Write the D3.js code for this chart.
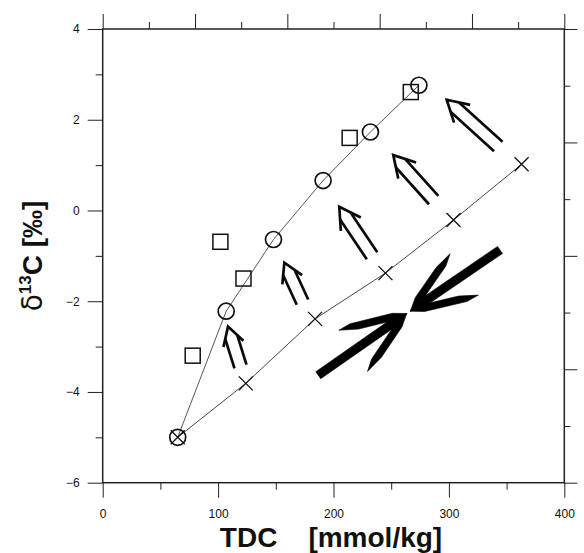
<!DOCTYPE html>
<html>
<head>
<meta charset="utf-8">
<script src="https://cdn.jsdelivr.net/npm/d3@7"></script>
<style>
  html, body { margin: 0; padding: 0; background: #fff; }
  svg { display: block; }
  text { font-family: "Liberation Sans", Arial, sans-serif; fill: #111; }
</style>
</head>
<body>
<svg id="chart" width="584" height="553"></svg>
<script>
// Open circles: TDC vs δ13C
const circleTDC = [65, 107, 148, 191, 232, 274];
const circleD13C = [-5.0, -2.22, -0.64, 0.66, 1.73, 2.76];

// Open squares
const squareTDC = [78, 102, 122, 214, 267];
const squareD13C = [-3.2, -0.69, -1.5, 1.6, 2.61];

// Crosses
const crossTDC = [65, 124, 184, 245, 304, 363];
const crossD13C = [-5.0, -3.81, -2.39, -1.38, -0.21, 1.02];

// Double-line arrows: tail and tip in data units
const arrowTailTDC = [119.4, 173.1, 233.4, 286.8, 342.8];
const arrowTailD13C = [-3.44, -2.02, -1.0, 0.23, 1.41];
const arrowTipTDC = [108.6, 157.4, 205.0, 251.8, 298.1];
const arrowTipD13C = [-2.56, -1.15, 0.08, 1.22, 2.44];

// Two heavy filled arrows meeting head to head
const bigTailTDC = [186.8, 344.3];
const bigTailD13C = [-3.63, -0.87];
const bigTipTDC = [263.5, 266.5];
const bigTipD13C = [-2.27, -2.22];

// Axis ticks
const xTickLabels = [0, 100, 200, 300, 400];
const yTickLabels = [-6, -4, -2, 0, 2, 4];

const svg = d3.select("#chart");
const margin = { left: 102.7, right: 19.7, top: 29, bottom: 70.3 };
const W = 584, H = 553;

const x = d3.scaleLinear().domain([0, 400]).range([margin.left, W - margin.right]);
const y = d3.scaleLinear().domain([-6, 4]).range([H - margin.bottom, margin.top]);

const axisColor = "#222";

// ---- axes ----
function styleAxis(g) {
  g.select(".domain").remove();
  g.selectAll(".tick line").attr("stroke", axisColor).attr("stroke-width", 1);
  g.selectAll(".tick text").style("font-size", "12px").attr("fill", "#111");
}

// left: labelled majors + minor odd values
svg.append("g").attr("transform", `translate(${x(0)},0)`)
  .call(d3.axisLeft(y).tickValues(yTickLabels).tickSize(15).tickPadding(8).tickFormat(d3.format("d")))
  .call(styleAxis);
svg.append("g").attr("transform", `translate(${x(0)},0)`)
  .call(d3.axisLeft(y).tickValues(d3.range(-5, 4, 2)).tickSize(7).tickFormat(""))
  .call(styleAxis);

// bottom
svg.append("g").attr("transform", `translate(0,${y(-6)})`)
  .call(d3.axisBottom(x).tickValues(xTickLabels).tickSize(15).tickPadding(12).tickFormat(d3.format("d")))
  .call(styleAxis);
svg.append("g").attr("transform", `translate(0,${y(-6)})`)
  .call(d3.axisBottom(x).tickValues([50, 150, 250, 350]).tickSize(7).tickFormat(""))
  .call(styleAxis);

// top: ticks every 40, longer every 80
svg.append("g").attr("transform", `translate(0,${y(4)})`)
  .call(d3.axisTop(x).tickValues(d3.range(0, 401, 80)).tickSize(15).tickFormat(""))
  .call(styleAxis);
svg.append("g").attr("transform", `translate(0,${y(4)})`)
  .call(d3.axisTop(x).tickValues(d3.range(40, 400, 80)).tickSize(7).tickFormat(""))
  .call(styleAxis);

// right: ticks every 1.25, longer every 2.5
svg.append("g").attr("transform", `translate(${x(400)},0)`)
  .call(d3.axisRight(y).tickValues(d3.range(-6, 4.01, 2.5)).tickSize(13).tickFormat(""))
  .call(styleAxis);
svg.append("g").attr("transform", `translate(${x(400)},0)`)
  .call(d3.axisRight(y).tickValues(d3.range(-4.75, 4, 2.5)).tickSize(6).tickFormat(""))
  .call(styleAxis);

// frame
svg.append("rect")
  .attr("x", x(0)).attr("y", y(4))
  .attr("width", x(400) - x(0)).attr("height", y(-6) - y(4))
  .attr("fill", "none").attr("stroke", axisColor).attr("stroke-width", 1.5);

// ---- series lines ----
const line = d3.line().x(d => x(d[0])).y(d => y(d[1]));
const circlePts = circleTDC.map((v, i) => [v, circleD13C[i]]);
const crossPts = crossTDC.map((v, i) => [v, crossD13C[i]]);

svg.append("path").datum(circlePts).attr("d", line)
  .attr("fill", "none").attr("stroke", "#444").attr("stroke-width", 0.9);
svg.append("path").datum(crossPts).attr("d", line)
  .attr("fill", "none").attr("stroke", "#333").attr("stroke-width", 0.9);

// ---- markers ----
const markerStroke = "#111";
svg.append("g").selectAll("rect")
  .data(squareTDC.map((v, i) => [v, squareD13C[i]]))
  .join("rect")
  .attr("x", d => x(d[0]) - 7.5).attr("y", d => y(d[1]) - 7.5)
  .attr("width", 15).attr("height", 15)
  .attr("fill", "none").attr("stroke", markerStroke).attr("stroke-width", 1.5);

svg.append("g").selectAll("circle")
  .data(circlePts)
  .join("circle")
  .attr("cx", d => x(d[0])).attr("cy", d => y(d[1])).attr("r", 8)
  .attr("fill", "none").attr("stroke", markerStroke).attr("stroke-width", 1.7);

svg.append("g").selectAll("path")
  .data(crossPts)
  .join("path")
  .attr("d", d => {
    const cx = x(d[0]), cy = y(d[1]), s = 7;
    return `M${cx - s},${cy - s}L${cx + s},${cy + s}M${cx - s},${cy + s}L${cx + s},${cy - s}`;
  })
  .attr("fill", "none").attr("stroke", markerStroke).attr("stroke-width", 1.3);

// ---- double-line open arrows ----
const arrowG = svg.append("g").attr("fill", "none").attr("stroke", "#0a0a0a")
  .attr("stroke-width", 2.7).attr("stroke-linecap", "butt").attr("stroke-linejoin", "miter");

arrowTipTDC.forEach((_, i) => {
  const tx = x(arrowTipTDC[i]), ty = y(arrowTipD13C[i]);
  const sx = x(arrowTailTDC[i]), sy = y(arrowTailD13C[i]);
  const len = Math.hypot(tx - sx, ty - sy);
  const ux = (tx - sx) / len, uy = (ty - sy) / len;   // toward tip
  const nx = -uy, ny = ux;
  const headLen = Math.min(24, 0.5 * len);
  const ang = 30 * Math.PI / 180;
  const off = 6.3;
  const back = off / Math.tan(ang);
  // barbs
  const bx = -ux, by = -uy;
  const rot = (a) => [bx * Math.cos(a) - by * Math.sin(a), bx * Math.sin(a) + by * Math.cos(a)];
  const b1 = rot(ang), b2 = rot(-ang);
  arrowG.append("path").attr("d",
    `M${tx + b1[0] * headLen},${ty + b1[1] * headLen}L${tx},${ty}L${tx + b2[0] * headLen},${ty + b2[1] * headLen}`);
  // two parallel shafts
  [1, -1].forEach(k => {
    arrowG.append("path").attr("d",
      `M${tx - ux * back + nx * off * k},${ty - uy * back + ny * off * k}` +
      `L${sx + nx * off * k},${sy + ny * off * k}`);
  });
});

// ---- heavy filled arrows ----
const bigG = svg.append("g").attr("fill", "#000").attr("stroke", "#000").attr("stroke-width", 0.6);
bigTipTDC.forEach((_, i) => {
  const tx = x(bigTipTDC[i]), ty = y(bigTipD13C[i]);
  const sx = x(bigTailTDC[i]), sy = y(bigTailD13C[i]);
  const len = Math.hypot(tx - sx, ty - sy);
  const ux = (tx - sx) / len, uy = (ty - sy) / len;
  const nx = -uy, ny = ux;
  const hw = 4.3;
  const px = tx - ux * 16, py = ty - uy * 16;
  // shaft tapering into the tip
  bigG.append("path").attr("d",
    `M${sx + nx * hw},${sy + ny * hw}L${px + nx * hw},${py + ny * hw}L${tx},${ty}` +
    `L${px - nx * hw},${py - ny * hw}L${sx - nx * hw},${sy - ny * hw}Z`);
  // barbs: blades swept back from the tip, cut to a point at the far end
  const bx = -ux, by = -uy;
  const ang = 21 * Math.PI / 180, bl = 70, bw = 3.6;
  [ang, -ang].forEach(a => {
    const dx = bx * Math.cos(a) - by * Math.sin(a);
    const dy = bx * Math.sin(a) + by * Math.cos(a);
    const mx = -dy, my = dx;
    const at = (f, w) => `${tx + dx * bl * f + mx * w},${ty + dy * bl * f + my * w}`;
    bigG.append("path").attr("d",
      `M${tx},${ty}L${at(0.2, bw)}L${at(0.82, bw)}L${at(1, 0)}L${at(0.72, -bw)}L${at(0.2, -bw)}Z`);
  });
});

// ---- axis titles ----
const xt = svg.append("text")
  .attr("x", 331).attr("y", 546.5).attr("text-anchor", "middle")
  .style("font-size", "28px").style("font-weight", "bold");
xt.append("tspan").text("TDC");
xt.append("tspan").attr("dx", 31).text("[mmol/kg]");

const yt = svg.append("text")
  .attr("transform", "translate(42,256) rotate(-90)")
  .attr("text-anchor", "middle")
  .style("font-size", "28px");
yt.append("tspan").style("font-weight", "normal").style("font-family", "'DejaVu Sans', sans-serif").text("δ");
yt.append("tspan").style("font-size", "17px").style("font-weight", "bold").attr("dy", -11).text("13");
yt.append("tspan").style("font-weight", "bold").attr("dy", 11).text("C [‰]");
</script>
</body>
</html>
